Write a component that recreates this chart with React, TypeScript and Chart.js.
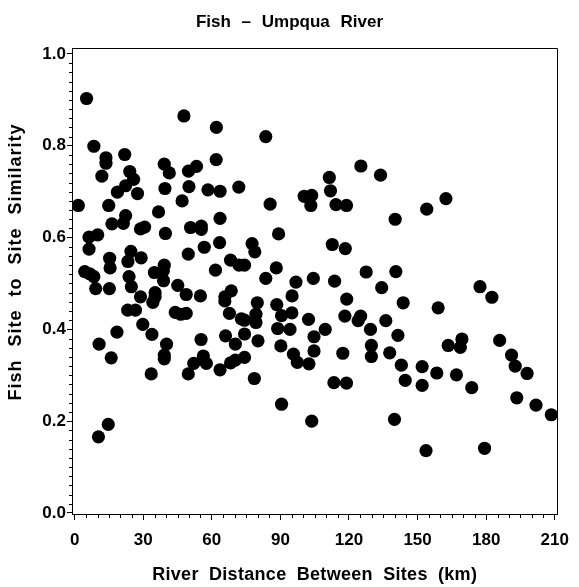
import React, { useEffect, useRef } from 'react';
import { Chart, registerables } from 'chart.js';

Chart.register(...registerables);

// ---- data ----
const distanceKm: number[] = [
  5.2, 47.8, 62.0, 83.6, 8.4, 13.7, 13.7, 21.9, 61.9, 39.2,
  24.1, 41.4, 49.8, 53.3, 11.9, 25.8, 22.3, 39.5, 50.0, 18.7,
  27.5, 58.3, 63.6, 71.8, 47.0, 1.6, 14.9, 85.5, 100.4, 103.7,
  103.3, 22.3, 36.7, 63.6, 16.3, 21.3, 28.8, 30.6, 50.7, 55.4,
  55.4, 6.3, 10.1, 39.7, 89.2, 6.3, 24.6, 49.7, 56.7, 63.4,
  77.6, 78.8, 15.3, 23.3, 29.1, 68.2, 71.9, 74.3, 15.5, 39.2,
  88.2, 61.6,
  4.4, 6.6, 8.4, 23.8, 34.9, 38.8, 38.9, 9.2, 15.2, 24.8,
  45.1, 28.8, 35.2, 35.2, 34.2, 48.8, 55.0, 65.7, 65.7, 68.5,
  83.6, 96.8, 104.4, 79.9, 88.4, 95.1, 23.2, 26.6, 44.0, 46.4,
  48.8, 67.7, 72.9, 74.3, 79.3, 79.3, 90.5, 95.0, 102.3, 29.8,
  18.5, 33.8, 66.0, 74.3, 88.8, 94.2, 104.7, 10.7, 40.2, 55.3,
  70.3, 80.2, 90.2, 104.7, 16.0, 39.2, 39.2, 56.3, 57.6, 52.1,
  68.2, 70.3, 74.3, 95.7, 97.4, 102.5, 33.5, 49.7, 63.6, 78.6,
  90.5, 103.7, 14.7, 10.4,
  125.2, 133.8, 111.4, 111.9, 114.3, 118.9, 162.4, 154.0, 140.2, 112.7,
  118.4, 127.5, 140.5, 113.7,
  134.3, 177.3, 182.5, 119.0, 143.7, 159.0, 118.2, 124.0, 125.1, 136.1,
  109.6, 129.4, 141.4, 129.8, 129.8, 117.3, 137.8, 163.4, 169.4, 168.7,
  185.9, 191.1, 192.7, 197.9, 142.9, 152.0, 158.4, 167.0, 113.4, 118.9,
  144.6, 152.0, 173.7, 193.4, 201.8, 208.5, 139.9, 179.3, 153.7,
];

const similarity: number[] = [
  0.903, 0.865, 0.840, 0.820, 0.799, 0.774, 0.762, 0.781, 0.770, 0.760,
  0.744, 0.741, 0.745, 0.755, 0.734, 0.727, 0.713, 0.707, 0.711, 0.699,
  0.696, 0.704, 0.701, 0.710, 0.680, 0.670, 0.670, 0.673, 0.690, 0.692,
  0.670, 0.648, 0.656, 0.642, 0.630, 0.631, 0.619, 0.623, 0.622, 0.625,
  0.618, 0.601, 0.606, 0.609, 0.608, 0.575, 0.570, 0.564, 0.579, 0.589,
  0.587, 0.569, 0.555, 0.548, 0.556, 0.551, 0.540, 0.540, 0.534, 0.540,
  0.534, 0.529,
  0.526, 0.521, 0.515, 0.515, 0.524, 0.528, 0.506, 0.489, 0.489, 0.493,
  0.496, 0.471, 0.480, 0.471, 0.459, 0.476, 0.473, 0.471, 0.462, 0.484,
  0.511, 0.503, 0.511, 0.458, 0.454, 0.473, 0.442, 0.442, 0.437, 0.433,
  0.435, 0.435, 0.423, 0.420, 0.433, 0.415, 0.430, 0.436, 0.422, 0.411,
  0.394, 0.389, 0.386, 0.390, 0.402, 0.400, 0.384, 0.368, 0.368, 0.378,
  0.368, 0.375, 0.364, 0.353, 0.338, 0.344, 0.336, 0.342, 0.326, 0.326,
  0.327, 0.333, 0.339, 0.346, 0.328, 0.325, 0.303, 0.303, 0.312, 0.293,
  0.237, 0.200, 0.193, 0.166,
  0.756, 0.736, 0.731, 0.702, 0.672, 0.670, 0.685, 0.662, 0.640, 0.585,
  0.576, 0.525, 0.526, 0.505,
  0.491, 0.493, 0.470, 0.466, 0.458, 0.447, 0.429, 0.419, 0.429, 0.419,
  0.400, 0.400, 0.387, 0.365, 0.341, 0.348, 0.349, 0.365, 0.379, 0.361,
  0.376, 0.344, 0.320, 0.304, 0.322, 0.319, 0.305, 0.301, 0.284, 0.283,
  0.289, 0.278, 0.273, 0.251, 0.235, 0.214, 0.204, 0.141, 0.136,
];

const xTickValues: number[] = [0, 30, 60, 90, 120, 150, 180, 210];
const yTickValues: number[] = [0, 0.2, 0.4, 0.6, 0.8, 1.0];
const xMinorStep = 5;
const yMinorStep = 0.02;

const titleText = 'Fish – Umpqua River';
const xTitleText = 'River Distance Between Sites (km)';
const yTitleText = 'Fish Site to Site Similarity';

// axis ranges
const X_MIN = -1.16;
const X_MAX = 211.16;
const Y_MIN = -0.00218;
const Y_MAX = 1.01307;

const FONT = '"Liberation Sans", Arial, Helvetica, sans-serif';

const decorPlugin = {
  id: 'decor',
  afterDraw(chart: any) {
    const { ctx, chartArea: a, scales } = chart;
    const xs = scales.x;
    const ys = scales.y;
    ctx.save();
    ctx.strokeStyle = '#000';
    ctx.lineWidth = 1;

    // top and right frame lines
    const top = Math.round(a.top) + 0.5;
    const right = Math.round(a.right) + 0.5;
    ctx.beginPath();
    ctx.moveTo(Math.round(a.left), top);
    ctx.lineTo(right, top);
    ctx.lineTo(right, Math.round(a.bottom) + 1);
    ctx.stroke();

    // minor ticks
    ctx.beginPath();
    const b = Math.round(a.bottom);
    for (let v = 0; v <= xTickValues[xTickValues.length - 1] + 1e-9; v += xMinorStep) {
      if (xTickValues.some((t) => Math.abs(t - v) < 1e-6)) continue;
      const px = Math.round(xs.getPixelForValue(v)) + 0.5;
      ctx.moveTo(px, b);
      ctx.lineTo(px, b + 4);
    }
    const l = Math.round(a.left);
    for (let i = 0; i <= 50; i++) {
      const v = i * yMinorStep;
      if (yTickValues.some((t) => Math.abs(t - v) < 1e-6)) continue;
      const py = Math.round(ys.getPixelForValue(v)) + 0.5;
      ctx.moveTo(l - 3, py);
      ctx.lineTo(l, py);
    }
    ctx.stroke();

    // titles
    const setSpacing = (ls: string, ws: string) => {
      if ('letterSpacing' in ctx) (ctx as any).letterSpacing = ls;
      if ('wordSpacing' in ctx) (ctx as any).wordSpacing = ws;
    };
    ctx.fillStyle = '#000';
    ctx.textAlign = 'center';
    ctx.textBaseline = 'alphabetic';

    ctx.font = `bold 17px ${FONT}`;
    setSpacing('0px', '6px');
    ctx.fillText(titleText, chart.width / 2, 27);

    ctx.font = `bold 18px ${FONT}`;
    setSpacing('0.3px', '5px');
    ctx.fillText(xTitleText, (a.left + a.right) / 2, 580);

    ctx.save();
    ctx.translate(21, 262);
    ctx.rotate(-Math.PI / 2);
    setSpacing('1px', '7px');
    ctx.fillText(yTitleText, 0, 0);
    ctx.restore();

    ctx.restore();
  },
};

export default function App() {
  const ref = useRef<HTMLCanvasElement>(null);

  useEffect(() => {
    if (!ref.current) return;
    const points = distanceKm.map((x, i) => ({ x, y: similarity[i] }));
    const chart = new Chart(ref.current, {
      type: 'scatter',
      data: {
        datasets: [
          {
            data: points,
            backgroundColor: '#000',
            borderColor: '#000',
            borderWidth: 0,
            pointRadius: 6.6,
            pointHoverRadius: 6.6,
          },
        ],
      },
      options: {
        animation: false,
        responsive: false,
        devicePixelRatio: 1,
        events: [],
        layout: { padding: { top: 48, right: 13, bottom: 0, left: 0 } },
        plugins: {
          legend: { display: false },
          title: { display: false },
          tooltip: { enabled: false },
        },
        scales: {
          x: {
            type: 'linear',
            min: X_MIN,
            max: X_MAX,
            afterBuildTicks: (s: any) => {
              s.ticks = xTickValues.map((v) => ({ value: v }));
            },
            afterFit: (s: any) => {
              s.height = 73;
            },
            grid: {
              drawOnChartArea: false,
              drawTicks: true,
              tickLength: 6,
              tickColor: '#000',
              tickWidth: 1,
            },
            border: { display: true, color: '#000', width: 1 },
            ticks: {
              color: '#000',
              font: { family: FONT, size: 17, weight: 'bold' },
              padding: 10,
              maxRotation: 0,
              autoSkip: false,
              callback: (v: any) => String(v),
            },
          },
          y: {
            type: 'linear',
            min: Y_MIN,
            max: Y_MAX,
            afterBuildTicks: (s: any) => {
              s.ticks = yTickValues.map((v) => ({ value: v }));
            },
            afterFit: (s: any) => {
              s.width = 72;
            },
            grid: {
              drawOnChartArea: false,
              drawTicks: true,
              tickLength: 5,
              tickColor: '#000',
              tickWidth: 1,
            },
            border: { display: true, color: '#000', width: 1 },
            ticks: {
              color: '#000',
              font: { family: FONT, size: 17, weight: 'bold' },
              padding: 1,
              autoSkip: false,
              callback: (v: any) => Number(v).toFixed(1),
            },
          },
        },
      } as any,
      plugins: [decorPlugin],
    });
    return () => chart.destroy();
  }, []);

  return (
    <div
      style={{
        position: 'fixed',
        left: 0,
        top: 0,
        width: 579,
        height: 587,
        background: '#fff',
      }}
    >
      <canvas
        ref={ref}
        width={579}
        height={587}
        style={{ display: 'block', width: 579, height: 587 }}
      />
    </div>
  );
}
